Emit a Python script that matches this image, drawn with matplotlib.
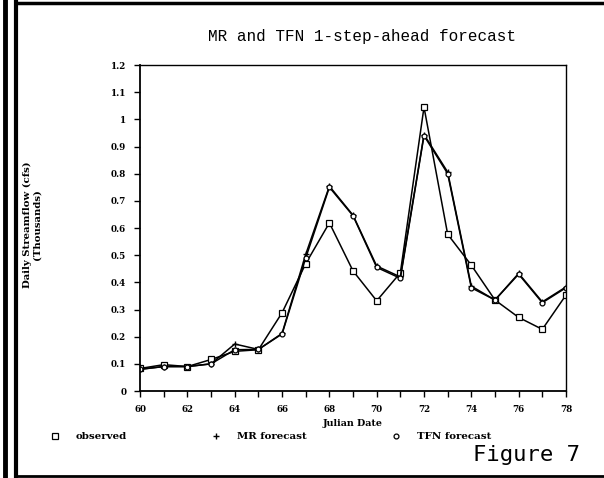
import matplotlib.pyplot as plt
from matplotlib.lines import Line2D
import numpy as np

days = np.arange(60, 79)
observed = [0.083, 0.097, 0.090, 0.116, 0.146, 0.152, 0.288, 0.469, 0.619, 0.442,
            0.332, 0.435, 1.045, 0.577, 0.463, 0.335, 0.271, 0.227, 0.353]
mr_forecast = [0.080, 0.090, 0.090, 0.100, 0.173, 0.153, 0.212, 0.503, 0.754, 0.647,
               0.460, 0.420, 0.944, 0.806, 0.386, 0.335, 0.433, 0.328, 0.383]
tfn_forecast = [0.080, 0.090, 0.090, 0.100, 0.152, 0.153, 0.210, 0.490, 0.750, 0.645,
                0.455, 0.415, 0.940, 0.800, 0.380, 0.335, 0.430, 0.325, 0.380]

yticks = [0, 0.1, 0.2, 0.3, 0.4, 0.5, 0.6, 0.7, 0.8, 0.9, 1, 1.1, 1.2]
ytick_labels = ['0', '0.1', '0.2', '0.3', '0.4', '0.5', '0.6', '0.7', '0.8', '0.9', '1', '1.1', '1.2']

serif = 'DejaVu Serif'

fig = plt.figure(figsize=(6.04, 4.78), dpi=100)
ax = fig.add_axes([0.232, 0.182, 0.705, 0.682])

ax.plot(days, observed, color='black', lw=1.1, marker='s', ms=5,
        mfc='white', mec='black', mew=0.9, label='observed')
ax.plot(days, mr_forecast, color='black', lw=1.1, marker='+', ms=5,
        mew=1.0, label='MR forecast')
ax.plot(days, tfn_forecast, color='black', lw=1.1, marker='o', ms=3.5,
        mfc='white', mec='black', mew=0.9, label='TFN forecast')

ax.set_xlim(60, 78)
ax.set_ylim(0, 1.2)
ax.set_xticks(days)
ax.set_xticklabels([str(d) if d % 2 == 0 else '' for d in days])
ax.set_yticks(yticks)
ax.set_yticklabels(ytick_labels)
ax.tick_params(direction='out', length=4, width=1, labelsize=6.3, pad=6)
for lab in ax.get_xticklabels() + ax.get_yticklabels():
    lab.set_fontfamily(serif)
    lab.set_fontweight('bold')
for sp in ax.spines.values():
    sp.set_linewidth(1.0)
ax.spines['left'].set_linewidth(1.3)
ax.spines['bottom'].set_linewidth(1.3)

ax.set_xlabel('Julian Date', fontfamily=serif, fontweight='bold', fontsize=6.8, labelpad=4)
fig.text(0.053, 0.53, 'Daily Streamflow (cfs)\n(Thousands)', rotation=90,
         ha='center', va='center', fontfamily=serif, fontweight='bold',
         fontsize=7.3, linespacing=1.1)

fig.text(0.6, 0.923, 'MR and TFN 1-step-ahead forecast', ha='center', va='center',
         fontfamily='Liberation Mono', fontsize=11.5)

handles = [Line2D([], [], ls='none', marker='s', ms=5, mfc='white', mec='black', mew=0.9),
           Line2D([], [], ls='none', marker='+', ms=5, mec='black', mew=1.0),
           Line2D([], [], ls='none', marker='o', ms=3.5, mfc='white', mec='black', mew=0.9)]
fig.legend(handles, ['observed', 'MR forecast', 'TFN forecast'], ncol=3,
           loc='center left', bbox_to_anchor=(0.063, 0.086), frameon=False,
           handlelength=1.5, handletextpad=1.3, columnspacing=7.9,
           prop={'family': serif, 'weight': 'bold', 'size': 7.4})

fig.text(0.96, 0.048, 'Figure 7', ha='right', va='center',
         fontfamily='DejaVu Sans Mono', fontsize=16)

# scanned page frame
fig.add_artist(Line2D([0.008, 0.008], [0.0, 1.0], color='black', lw=3.5))
fig.add_artist(Line2D([0.026, 0.026], [0.0, 0.995], color='black', lw=3.0))
fig.add_artist(Line2D([0.026, 1.0], [0.993, 0.993], color='black', lw=2.5))
fig.add_artist(Line2D([0.026, 1.0], [0.005, 0.005], color='black', lw=2.0))

fig.savefig('out.png', dpi=100)
